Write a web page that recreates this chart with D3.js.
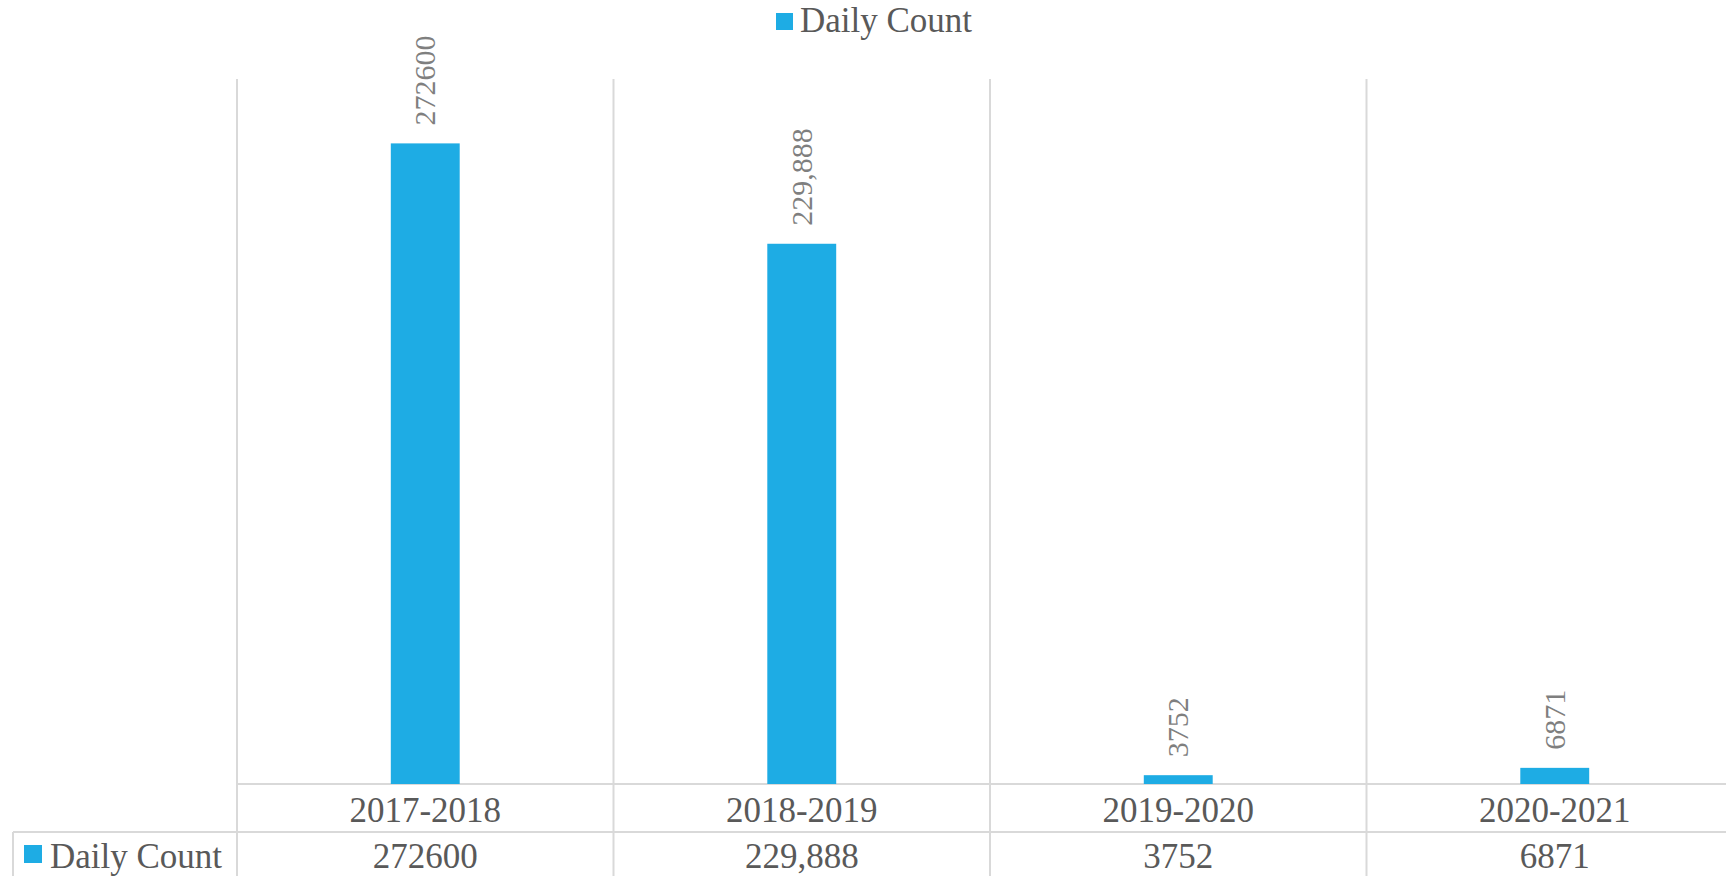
<!DOCTYPE html>
<html>
<head>
<meta charset="utf-8">
<script src="https://cdn.jsdelivr.net/npm/d3@7"></script>
<style>
  body { margin: 0; background: #fff; }
  svg { display: block; font-family: "Liberation Serif", "DejaVu Serif", serif; }
</style>
</head>
<body>
<svg id="chart"></svg>
<script>
// chart data
const categories = ["2017-2018", "2018-2019", "2019-2020", "2020-2021"];
const dailyCount = [272600, 229888, 3752, 6871];
const dailyLabels = ["272600", "229,888", "3752", "6871"];
const seriesName = "Daily Count";

const width = 1726;
const height = 876;
const barColor = "#1EACE4";
const gridColor = "#d9d9d9";

const svg = d3.select("#chart")
    .attr("width", width)
    .attr("height", height);

// plot area (the last band runs past the right edge, as in the original)
const plotLeft = 237, plotTop = 79, plotBottom = 784;
const bandW = 376.5;

const x = d3.scaleBand()
    .domain(categories)
    .range([plotLeft, plotLeft + bandW * categories.length])
    .paddingInner(0).paddingOuter(0);

const y = d3.scaleLinear()
    .domain([0, 300000])
    .range([plotBottom, plotTop]);

const tableTop = 832;
const tableLeft = 13;

// vertical grid / table column lines
const edges = categories.map(c => x(c)).concat([x.range()[1]]);
svg.append("g").selectAll("line")
    .data(edges)
    .enter().append("line")
    .attr("x1", d => d).attr("x2", d => d)
    .attr("y1", plotTop).attr("y2", height)
    .attr("stroke", gridColor).attr("stroke-width", 2);

// axis line
svg.append("line")
    .attr("x1", plotLeft).attr("x2", width)
    .attr("y1", plotBottom).attr("y2", plotBottom)
    .attr("stroke", gridColor).attr("stroke-width", 2);

// table lines
svg.append("line")
    .attr("x1", tableLeft).attr("x2", width)
    .attr("y1", tableTop).attr("y2", tableTop)
    .attr("stroke", gridColor).attr("stroke-width", 2);
svg.append("line")
    .attr("x1", tableLeft).attr("x2", tableLeft)
    .attr("y1", tableTop).attr("y2", height)
    .attr("stroke", gridColor).attr("stroke-width", 2);

// bars
const barW = bandW * 0.183;
svg.append("g").selectAll("rect")
    .data(dailyCount)
    .enter().append("rect")
    .attr("x", (d, i) => x(categories[i]) + x.bandwidth() / 2 - barW / 2)
    .attr("y", d => y(d))
    .attr("width", barW)
    .attr("height", d => plotBottom - y(d))
    .attr("fill", barColor);

// rotated data labels
svg.append("g").selectAll("text")
    .data(dailyCount)
    .enter().append("text")
    .attr("transform", (d, i) => `translate(${x(categories[i]) + x.bandwidth() / 2},${y(d) - 18}) rotate(-90)`)
    .attr("dy", "0.34em")
    .attr("font-size", 30)
    .attr("fill", "#7f7f7f")
    .text((d, i) => dailyLabels[i]);

// category labels
svg.append("g").selectAll("text")
    .data(categories)
    .enter().append("text")
    .attr("x", d => x(d) + x.bandwidth() / 2)
    .attr("y", 822)
    .attr("text-anchor", "middle")
    .attr("font-size", 35)
    .attr("fill", "#595959")
    .text(d => d);

// table values row
svg.append("g").selectAll("text")
    .data(dailyLabels)
    .enter().append("text")
    .attr("x", (d, i) => x(categories[i]) + x.bandwidth() / 2)
    .attr("y", 868)
    .attr("text-anchor", "middle")
    .attr("font-size", 35)
    .attr("fill", "#595959")
    .text(d => d);

// table row key
svg.append("rect")
    .attr("x", 24).attr("y", 845)
    .attr("width", 18).attr("height", 18)
    .attr("fill", barColor);
svg.append("text")
    .attr("x", 50).attr("y", 868)
    .attr("font-size", 35)
    .attr("fill", "#595959")
    .text(seriesName);

// legend
svg.append("rect")
    .attr("x", 776).attr("y", 13)
    .attr("width", 17).attr("height", 17)
    .attr("fill", barColor);
svg.append("text")
    .attr("x", 800).attr("y", 32)
    .attr("font-size", 35)
    .attr("fill", "#595959")
    .text(seriesName);
</script>
</body>
</html>
